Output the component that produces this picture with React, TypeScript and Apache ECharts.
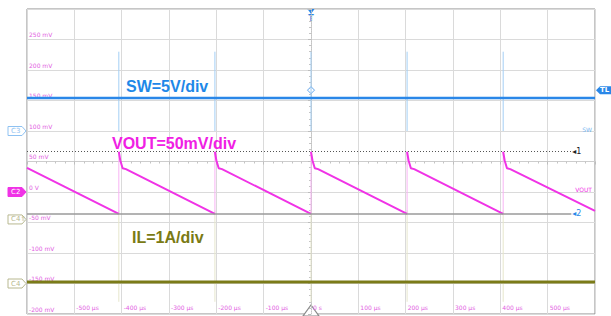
import React, { useEffect, useRef } from "react";
import * as echarts from "echarts";

// ---- time base (µs), 100 µs/div ----
const timeMin = -600;
const timeMax = 600;
const timeStep = 100;
// ---- screen scale taken from CH2 (VOUT) labels, 50 mV/div ----
const voltMin = -200;
const voltMax = 300;
const voltStep = 50;
// ---- hidden channel scales ----
const swScale = [-30, 20]; // V, 5 V/div, ground 6 div above bottom
const ilScale = [-1, 9]; // A, 1 A/div, ground 1 div above bottom
const divScale = [-5, 5]; // divisions (centre cross)

// switching events (µs)
const switchTimes = [-406, -203, 0, 203, 406];

// SW (V)
const swTrace = [
  [-600, 5.4],
  [600, 5.4],
];
const swSpikeHigh = 13;
const swSpikeLow = 0;
const triggerLevel = 6.7;

// VOUT (mV)
const voutPeak = 66;
const voutTrough = -36;
const voutTrace: any[] = [
  [-600, 39.5], [-406, -36], [-406, "-"],
  [-406, 66], [-403, 52], [-398, 39], [-391, 37.5], [-203, -36], [-203, "-"],
  [-203, 66], [-200, 52], [-195, 39], [-188, 37.5], [0, -36], [0, "-"],
  [0, 66], [3, 52], [8, 39], [15, 37.5], [203, -36], [203, "-"],
  [203, 66], [206, 52], [211, 39], [218, 37.5], [406, -36], [406, "-"],
  [406, 66], [409, 52], [414, 39], [421, 37.5], [600, -31],
];
const cursorEnd = 550;

// IL (A)
const ilTrace = [
  [-600, 0.05],
  [600, 0.05],
];
const ilSpikeHigh = 2.4;
const ilSpikeLow = -0.6;
const ilOffsetMarker = 2.1;

const C_SW = "#2a87e8";
const C_VOUT = "#f033e6";
const C_IL = "#7b7b18";

function xLabel(v: number) {
  if (v <= timeMin || v >= timeMax) return "";
  return v === 0 ? "0 s" : `${v} µs`;
}
function yLabel(v: number) {
  if (v >= voltMax) return "";
  return v === 0 ? "0 V" : `${v} mV`;
}

export default function App() {
  const ref = useRef<HTMLDivElement>(null);
  useEffect(() => {
    if (!ref.current) return;
    const chart = echarts.init(ref.current, undefined, { renderer: "svg" });

    const swSpikes: any[] = switchTimes.flatMap((t) => [[t, swSpikeHigh], [t, swSpikeLow], [t, "-"]]);
    const voutEdges: any[] = switchTimes.flatMap((t) => [[t, voutTrough], [t, voutPeak], [t, "-"]]);
    const ilSpikes: any[] = switchTimes.flatMap((t) => [[t, ilSpikeHigh], [t, ilSpikeLow], [t, "-"]]);

    const option: any = {
      animation: false,
      backgroundColor: "#ffffff",
      textStyle: { fontFamily: "DejaVu Sans" },
      grid: {
        left: 27,
        top: 9,
        width: 568,
        height: 305,
        show: true,
        borderColor: "#8c8c8c",
        borderWidth: 1,
        backgroundColor: "transparent",
      },
      xAxis: [
        {
          type: "value",
          position: "bottom",
          min: timeMin,
          max: timeMax,
          interval: timeStep,
          axisLine: { show: false, onZero: false },
          axisTick: { show: false },
          splitLine: { show: true, lineStyle: { color: "#dadada", width: 1 } },
          axisLabel: {
            inside: true,
            margin: 4,
            align: "left",
            padding: [0, 0, 0, 2],
            fontSize: 6,
            color: "#e25ee2",
            showMinLabel: true,
            showMaxLabel: true,
            formatter: xLabel,
          },
        },
        {
          type: "value",
          position: "bottom",
          min: timeMin,
          max: timeMax,
          interval: timeStep,
          axisLine: { show: true, onZero: true, onZeroAxisIndex: 3, lineStyle: { color: "#cdcdcd", width: 1 } },
          axisTick: { show: true, length: 3, lineStyle: { color: "#bdbdbd" } },
          minorTick: { show: true, splitNumber: 5, length: 2, lineStyle: { color: "#c4c4c4" } },
          axisLabel: { show: false },
          splitLine: { show: false },
        },
      ],
      yAxis: [
        {
          type: "value",
          position: "left",
          min: voltMin,
          max: voltMax,
          interval: voltStep,
          axisLine: { show: false, onZero: false },
          axisTick: { show: false },
          splitLine: { show: true, lineStyle: { color: "#dadada", width: 1 } },
          axisLabel: {
            inside: true,
            margin: 2,
            verticalAlign: "bottom",
            padding: [0, 0, 2, 0],
            fontSize: 6,
            color: "#e25ee2",
            formatter: yLabel,
          },
        },
        { type: "value", position: "left", min: swScale[0], max: swScale[1], show: false, axisLine: { onZero: false } },
        { type: "value", position: "left", min: ilScale[0], max: ilScale[1], show: false, axisLine: { onZero: false } },
        {
          type: "value",
          position: "left",
          min: divScale[0],
          max: divScale[1],
          interval: 1,
          axisLine: { show: true, onZero: true, onZeroAxisIndex: 0, lineStyle: { color: "#c4c4c4", type: "dotted" } },
          axisTick: { show: true, length: 3, lineStyle: { color: "#bdbdbd" } },
          minorTick: { show: true, splitNumber: 5, length: 2, lineStyle: { color: "#c4c4c4" } },
          axisLabel: { show: false },
          splitLine: { show: false },
        },
      ],
      series: [
        {
          type: "line",
          name: "IL spikes",
          xAxisIndex: 0,
          yAxisIndex: 2,
          data: ilSpikes,
          symbol: "none",
          silent: true,
          lineStyle: { color: "#e6e6cc", width: 1 },
        },
        {
          type: "line",
          name: "IL",
          xAxisIndex: 0,
          yAxisIndex: 2,
          data: ilTrace,
          symbol: "none",
          silent: true,
          lineStyle: { color: C_IL, width: 3 },
        },
        {
          type: "line",
          name: "SW spikes",
          xAxisIndex: 0,
          yAxisIndex: 1,
          data: swSpikes,
          symbol: "none",
          silent: true,
          lineStyle: { color: "#a3cff5", width: 1 },
        },
        {
          type: "line",
          name: "SW",
          xAxisIndex: 0,
          yAxisIndex: 1,
          data: swTrace,
          symbol: "none",
          silent: true,
          lineStyle: { color: C_SW, width: 2.5 },
        },
        {
          type: "scatter",
          name: "Trigger",
          xAxisIndex: 0,
          yAxisIndex: 1,
          data: [[0, triggerLevel]],
          symbol: "diamond",
          symbolSize: 7,
          silent: true,
          itemStyle: { color: "#ffffff", borderColor: "#3a8ee8", borderWidth: 1 },
        },
        {
          type: "line",
          name: "VOUT edges",
          xAxisIndex: 0,
          yAxisIndex: 0,
          data: voutEdges,
          symbol: "none",
          silent: true,
          lineStyle: { color: "#f8b4f4", width: 1 },
        },
        {
          type: "line",
          name: "VOUT",
          xAxisIndex: 0,
          yAxisIndex: 0,
          data: voutTrace,
          symbol: "none",
          silent: true,
          lineStyle: { color: C_VOUT, width: 2 },
          markLine: {
            silent: true,
            symbol: "none",
            animation: false,
            data: [
              [
                {
                  coord: [timeMin, voutPeak],
                  lineStyle: { color: "#555555", type: [1, 2], width: 1 },
                  label: { show: true, position: "end", formatter: "◂1", color: "#222222", fontSize: 8, distance: 1 },
                },
                { coord: [cursorEnd, voutPeak] },
              ],
              [
                {
                  coord: [timeMin, voutTrough],
                  lineStyle: { color: "#9a9a9a", type: "solid", width: 1.5 },
                  label: { show: true, position: "end", formatter: "◂2", color: "#2a87e8", fontSize: 8, distance: 1 },
                },
                { coord: [cursorEnd, voutTrough] },
              ],
            ],
          },
        },
      ],
    };
    chart.setOption(option);

    // annotation graphics positioned from the axes
    const px = (v: number) => chart.convertToPixel({ xAxisIndex: 0 }, v) as number;
    const py = (axis: number, v: number) => chart.convertToPixel({ yAxisIndex: axis }, v) as number;
    const left = px(timeMin);
    const right = px(timeMax);
    const xT = px(0);
    const yC3 = py(1, 0);
    const yC2 = py(0, 0);
    const yC4 = py(2, 0);
    const yC4o = py(2, ilOffsetMarker);
    const yTL = py(1, triggerLevel);
    const top = py(0, voltMax);
    const bottom = py(0, voltMin);

    const marker = (y: number, text: string, color: string, filled: boolean) => {
      const x0 = 8;
      const x1 = left - 1;
      const h = 4.5;
      return {
        type: "group",
        silent: true,
        children: [
          {
            type: "polygon",
            shape: {
              points: [
                [x0, y - h],
                [x1 - 4, y - h],
                [x1, y],
                [x1 - 4, y + h],
                [x0, y + h],
              ],
            },
            style: { fill: filled ? color : "#ffffff", stroke: color, lineWidth: 1 },
          },
          {
            type: "text",
            style: {
              text,
              x: x0 + 3,
              y,
              fill: filled ? "#ffffff" : color,
              fontSize: 7,
              fontFamily: "DejaVu Sans",
              verticalAlign: "middle",
              align: "left",
            },
          },
        ],
      };
    };

    const big = (x: number, y: number, text: string, color: string) => ({
      type: "text",
      silent: true,
      style: {
        text,
        x,
        y,
        fill: color,
        fontSize: 16,
        fontWeight: "bold",
        fontFamily: "Liberation Sans",
        verticalAlign: "middle",
        align: "left",
      },
    });

    chart.setOption({
      graphic: [
        marker(yC3, "C3", "#8fc2f2", false),
        marker(yC2, "C2", C_VOUT, true),
        marker(yC4o, "C4⇑", "#b8b890", false),
        marker(yC4, "C4", "#b8b890", false),
        // trigger level marker (right)
        {
          type: "group",
          silent: true,
          children: [
            {
              type: "polygon",
              shape: {
                points: [
                  [right + 1, yTL],
                  [right + 5, yTL - 4],
                  [611, yTL - 4],
                  [611, yTL + 4],
                  [right + 5, yTL + 4],
                ],
              },
              style: { fill: C_SW },
            },
            {
              type: "text",
              style: {
                text: "TL",
                x: right + 5,
                y: yTL,
                fill: "#ffffff",
                fontSize: 7,
                fontWeight: "bold",
                fontFamily: "DejaVu Sans",
                verticalAlign: "middle",
              },
            },
          ],
        },
        {
          type: "text",
          silent: true,
          style: { text: "SW", x: right - 3, y: yC3 - 2, align: "right", verticalAlign: "middle", fill: "#79b6f0", fontSize: 6, fontFamily: "DejaVu Sans" },
        },
        {
          type: "text",
          silent: true,
          style: { text: "VOUT", x: right - 3, y: yC2 - 3, align: "right", verticalAlign: "middle", fill: C_VOUT, fontSize: 6, fontFamily: "DejaVu Sans" },
        },
        // trigger position marker (top)
        {
          type: "polygon",
          silent: true,
          shape: { points: [[xT - 3.5, top], [xT + 3.5, top], [xT, top + 5]] },
          style: { fill: C_SW },
        },
        {
          type: "text",
          silent: true,
          style: { text: "T", x: xT, y: top + 9, align: "center", verticalAlign: "middle", fill: C_SW, fontSize: 8, fontWeight: "bold", fontFamily: "DejaVu Sans" },
        },
        // time reference marker (bottom)
        {
          type: "polygon",
          silent: true,
          shape: { points: [[xT, bottom - 9], [xT + 8, bottom + 2], [xT - 8, bottom + 2]] },
          style: { fill: "#ffffff", stroke: "#8a8a8a", lineWidth: 1.2 },
        },
        big(126, 86, "SW=5V/div", "#1e88e8"),
        big(112, 143, "VOUT=50mV/div", "#f020e4"),
        big(132, 237, "IL=1A/div", "#7a7a14"),
      ],
    });

    return () => chart.dispose();
  }, []);

  return (
    <div
      ref={ref}
      style={{ position: "fixed", left: 0, top: 0, width: 611, height: 316, background: "#ffffff" }}
    />
  );
}
